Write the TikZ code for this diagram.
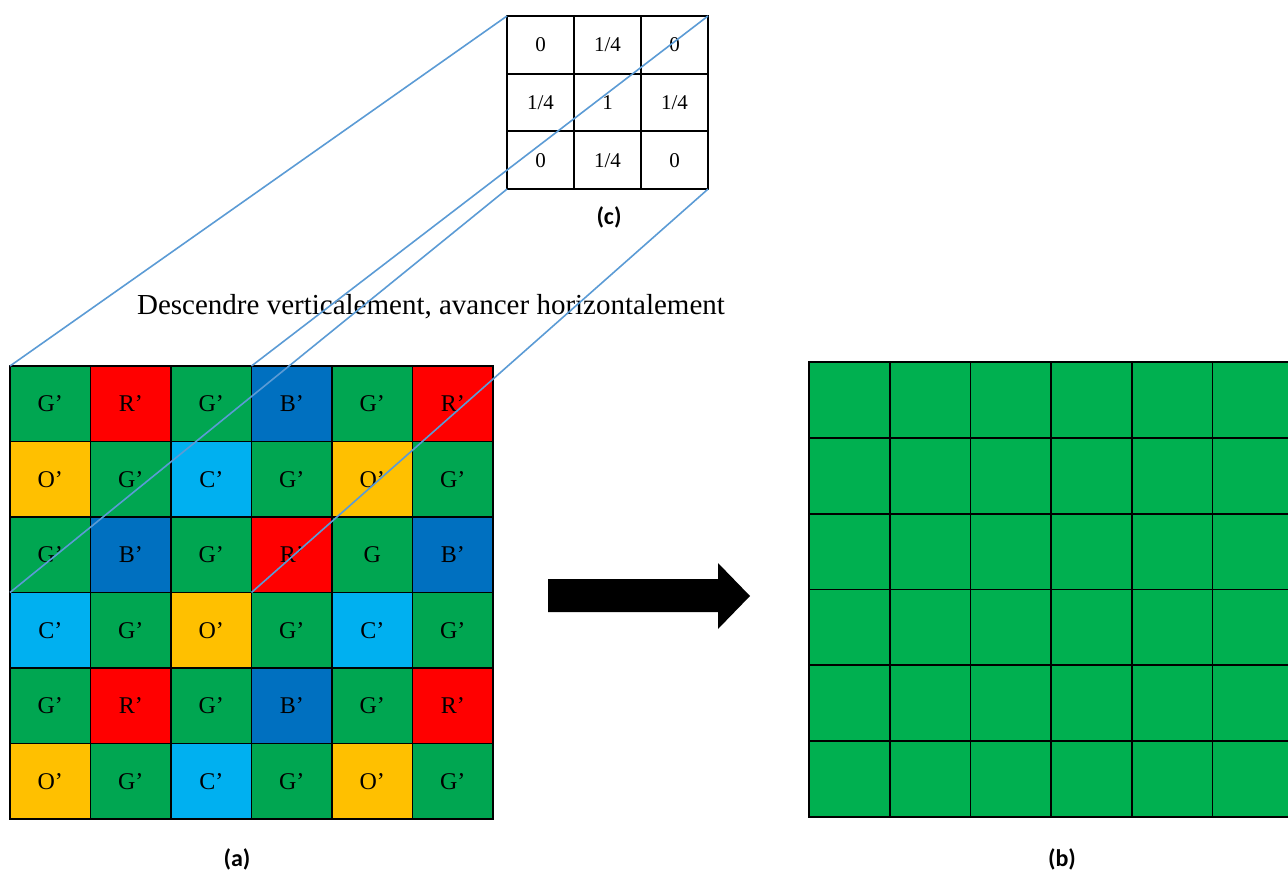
\documentclass[tikz,border=0pt]{standalone}
\usepackage{fontspec}
\setmainfont{Liberation Serif}
\newfontfamily\calib{Carlito}
\definecolor{gr}{HTML}{00A651}
\definecolor{grb}{HTML}{00B050}
\definecolor{rd}{HTML}{FF0000}
\definecolor{bl}{HTML}{0070C0}
\definecolor{cy}{HTML}{00B0F0}
\definecolor{or}{HTML}{FFC000}
\definecolor{lineblue}{HTML}{5B9BD5}
\begin{document}
\begin{tikzpicture}[x=1pt,y=-1pt,
  cellA/.style={minimum width=80.5pt, minimum height=75.5pt,
    inner sep=0pt, outer sep=0pt, anchor=north west, font=\fontsize{24}{28}\selectfont},
  cellB/.style={fill=grb, minimum width=80.7pt, minimum height=75.8pt,
    inner sep=0pt, outer sep=0pt, anchor=north west},
  kcell/.style={fill=white, minimum width=67pt, minimum height=57.7pt,
    inner sep=0pt, outer sep=0pt, anchor=north west, font=\fontsize{21}{25}\selectfont},
  cellborder/.style={draw=black, line width=1.8pt},
  sublabel/.style={font=\calib\bfseries\fontsize{24}{28}\selectfont, inner sep=0pt},
  proj/.style={draw=lineblue, line width=1.6pt}
]
\useasboundingbox (0,0) rectangle (1288,874);
\clip (0,0) rectangle (1288,874);

% left mosaic (a)
\foreach \row [count=\r from 0] in {
  {gr/G’,rd/R’,gr/G’,bl/B’,gr/G’,rd/R’},
  {or/O’,gr/G’,cy/C’,gr/G’,or/O’,gr/G’},
  {gr/G’,bl/B’,gr/G’,rd/R’,gr/G,bl/B’},
  {cy/C’,gr/G’,or/O’,gr/G’,cy/C’,gr/G’},
  {gr/G’,rd/R’,gr/G’,bl/B’,gr/G’,rd/R’},
  {or/O’,gr/G’,cy/C’,gr/G’,or/O’,gr/G’}} {
  \foreach \col/\lab [count=\c from 0] in \row {
    \node[cellA, fill=\col] (a-\r-\c) at ({10+80.5*\c},{366+75.5*\r}) {\lab};
  }
}
\foreach \r in {0,...,5} \foreach \c in {0,...,5}
  \draw[cellborder] (a-\r-\c.north west) rectangle (a-\r-\c.south east);

% right grid (b)
\foreach \r in {0,...,5} {
  \foreach \c in {0,...,5} {
    \node[cellB] (b-\r-\c) at ({809+80.7*\c},{362+75.8*\r}) {};
  }
}
\foreach \r in {0,...,5} \foreach \c in {0,...,5}
  \draw[cellborder] (b-\r-\c.north west) rectangle (b-\r-\c.south east);

% kernel (c)
\foreach \row [count=\r from 0] in {{0,1/4,0},{1/4,1,1/4},{0,1/4,0}} {
  \foreach \lab [count=\c from 0] in \row {
    \node[kcell] (k-\r-\c) at ({507+67*\c},{16+57.7*\r}) {\lab};
  }
}
\foreach \r in {0,1,2} \foreach \c in {0,1,2}
  \draw[cellborder] (k-\r-\c.north west) rectangle (k-\r-\c.south east);

% block arrow
\fill[black] (548,579) -- (718,579) -- (718,563) -- (750,596) -- (718,629) -- (718,612) -- (548,612) -- cycle;

% text
\node[anchor=base, inner sep=0pt, font=\fontsize{29}{34}\selectfont] (title) at (431,315)
  {Descendre verticalement, avancer horizontalement};
\node[sublabel] (la) at (237,859) {(a)};
\node[sublabel] (lb) at (1062,859) {(b)};
\node[sublabel] (lc) at (609,217) {(c)};

% projection lines
\draw[proj] (k-0-0.north west) -- (a-0-0.north west);
\draw[proj] (k-0-2.north east) -- (a-0-2.north east);
\draw[proj] (k-2-0.south west) -- (a-2-0.south west);
\draw[proj] (k-2-2.south east) -- (a-2-2.south east);
\end{tikzpicture}
\end{document}
